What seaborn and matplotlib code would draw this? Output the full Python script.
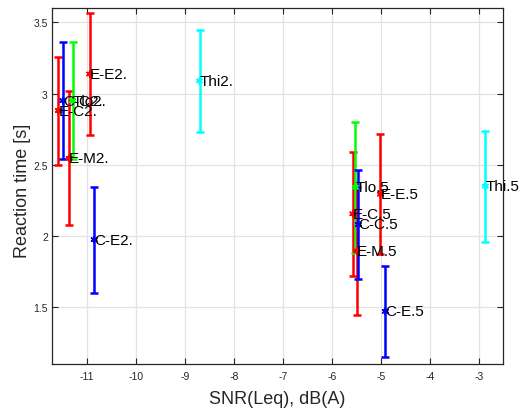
import matplotlib
matplotlib.use("Agg")
import matplotlib.pyplot as plt
import seaborn as sns
import pandas as pd

# Condition labels, SNR and mean reaction time with its spread
labels = ["E-C2.", "C-C2.", "E-M2.", "Tlo2.", "E-E2.", "C-E2.", "Thi2.",
          "E-C.5", "Tlo.5", "E-M.5", "C-C.5", "E-E.5", "C-E.5", "Thi.5"]
snr = [-11.58, -11.49, -11.36, -11.29, -10.94, -10.85, -8.70,
       -5.57, -5.52, -5.49, -5.46, -5.01, -4.91, -2.87]
rt_mean = [2.88, 2.95, 2.545, 2.95, 3.137, 1.973, 3.088,
           2.155, 2.342, 1.894, 2.08, 2.293, 1.47, 2.349]
rt_err = [0.38, 0.41, 0.47, 0.41, 0.43, 0.373, 0.36,
          0.435, 0.46, 0.447, 0.38, 0.42, 0.32, 0.39]
groups = ["E", "C", "E", "Tlo", "E", "C", "Thi",
          "E", "Tlo", "E", "C", "E", "C", "Thi"]

palette = {"E": "#ff0000", "C": "#0000ff", "Tlo": "#00ff00", "Thi": "#00ffff"}

df = pd.DataFrame({"label": labels, "snr": snr, "rt": rt_mean,
                   "err": rt_err, "group": groups})

sns.set_style("whitegrid")
plt.rcParams["font.family"] = ["Liberation Sans", "DejaVu Sans"]

fig = plt.figure(figsize=(5.2, 4.1), dpi=100)
ax = fig.add_axes([0.1, 0.1098, 0.868, 0.868])

for _, r in df.iterrows():
    ax.errorbar(r["snr"], r["rt"], yerr=r["err"], color=palette[r["group"]],
                lw=1.8, capsize=3, capthick=1.8, fmt="none", zorder=3)

# asterisk markers at the means
sns.scatterplot(data=df, x="snr", y="rt", hue="group", palette=palette,
                marker=(6, 2, 0), s=18, linewidth=1.2, legend=False, ax=ax,
                zorder=4)

for _, r in df.iterrows():
    ax.text(r["snr"], r["rt"], r["label"], ha="left", va="center",
            fontsize=11, color="black", zorder=5)

ax.set_xlim(-11.71, -2.5)
ax.set_ylim(1.1, 3.6)
ax.set_xticks(range(-11, -2))
ax.set_yticks([1.5, 2, 2.5, 3, 3.5])
ax.set_xticklabels([str(v) for v in range(-11, -2)])
ax.set_yticklabels(["1.5", "2", "2.5", "3", "3.5"])

ax.grid(True, color="#e3e3e3", lw=0.9)
ax.set_axisbelow(True)
for s in ax.spines.values():
    s.set_visible(True)
    s.set_color("#262626")
    s.set_linewidth(0.9)
ax.tick_params(direction="in", length=4, width=0.8, colors="#262626",
               labelsize=7.5, top=True, right=True, bottom=True, left=True,
               labeltop=False, labelright=False, pad=5)
ax.tick_params(axis="y", pad=3)

ax.set_xlabel("SNR(Leq), dB(A)", fontsize=13, color="#262626")
ax.set_ylabel("Reaction time [s]", fontsize=13, color="#262626")
ax.xaxis.set_label_coords(0.5, -0.072)
ax.yaxis.set_label_coords(-0.047, 0.49)

fig.savefig("out.png", dpi=100)
